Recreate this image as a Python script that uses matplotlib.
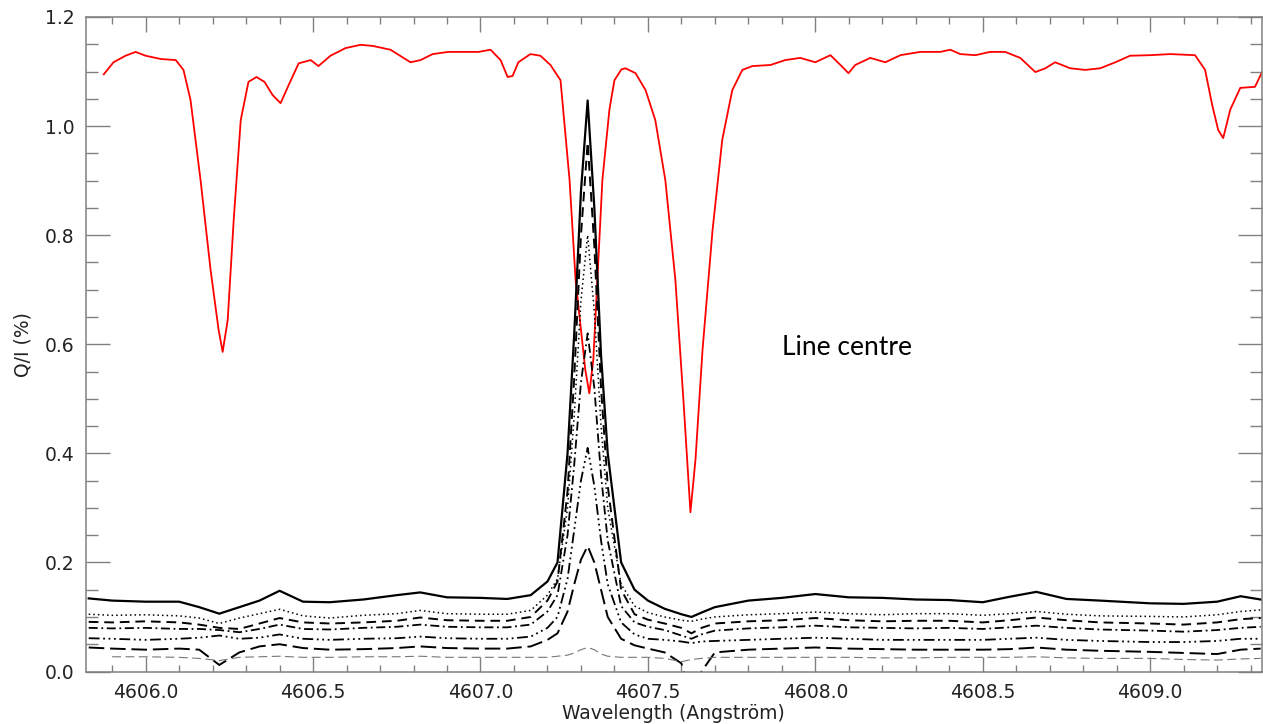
import matplotlib
matplotlib.use("Agg")
import matplotlib.pyplot as plt
from matplotlib.ticker import MultipleLocator

# ---------------- data ----------------
red_wl = [4605.875, 4605.904, 4605.940, 4605.970, 4606.000, 4606.045, 4606.090, 4606.113,
          4606.134, 4606.164, 4606.194, 4606.218, 4606.230, 4606.245, 4606.263, 4606.284,
          4606.307, 4606.331, 4606.355, 4606.379, 4606.403, 4606.427, 4606.457, 4606.493,
          4606.516, 4606.552, 4606.597, 4606.642, 4606.678, 4606.731, 4606.791, 4606.821,
          4606.857, 4606.904, 4606.940, 4606.994, 4607.030, 4607.060, 4607.081, 4607.096,
          4607.113, 4607.149, 4607.179, 4607.209, 4607.239, 4607.266, 4607.284, 4607.313,
          4607.325, 4607.337, 4607.349, 4607.364, 4607.385, 4607.400, 4607.421, 4607.433,
          4607.463, 4607.493, 4607.522, 4607.552, 4607.582, 4607.606, 4607.627, 4607.642,
          4607.663, 4607.693, 4607.722, 4607.752, 4607.782, 4607.812, 4607.866, 4607.910,
          4607.955, 4608.000, 4608.045, 4608.075, 4608.099, 4608.119, 4608.164, 4608.209,
          4608.254, 4608.313, 4608.373, 4608.403, 4608.433, 4608.478, 4608.522, 4608.567,
          4608.612, 4608.657, 4608.687, 4608.716, 4608.761, 4608.806, 4608.851, 4608.896,
          4608.940, 4609.000, 4609.060, 4609.134, 4609.164, 4609.185, 4609.203, 4609.218,
          4609.239, 4609.269, 4609.313, 4609.334]
red_qi = [1.095, 1.117, 1.129, 1.136, 1.129, 1.123, 1.121, 1.103,
          1.048, 0.901, 0.736, 0.626, 0.586, 0.644, 0.828, 1.011,
          1.081, 1.090, 1.081, 1.057, 1.042, 1.075, 1.115, 1.121,
          1.110, 1.129, 1.143, 1.149, 1.147, 1.140, 1.117, 1.121,
          1.132, 1.136, 1.136, 1.136, 1.140, 1.121, 1.090, 1.092,
          1.117, 1.132, 1.129, 1.112, 1.084, 0.901, 0.718, 0.553,
          0.510, 0.572, 0.718, 0.901, 1.030, 1.084, 1.104, 1.106,
          1.097, 1.066, 1.011, 0.901, 0.718, 0.498, 0.292, 0.388,
          0.589, 0.809, 0.975, 1.066, 1.103, 1.110, 1.112, 1.121,
          1.125, 1.117, 1.130, 1.112, 1.097, 1.112, 1.125, 1.117,
          1.130, 1.136, 1.136, 1.140, 1.132, 1.130, 1.136, 1.136,
          1.125, 1.099, 1.106, 1.117, 1.106, 1.103, 1.106, 1.117,
          1.129, 1.130, 1.132, 1.130, 1.103, 1.039, 0.993, 0.978,
          1.030, 1.070, 1.072, 1.099]

wl = [4605.83, 4605.90, 4606.00, 4606.10, 4606.16, 4606.22, 4606.28, 4606.34, 4606.40, 4606.47,
      4606.55, 4606.65, 4606.75, 4606.82, 4606.90, 4607.00, 4607.08, 4607.15, 4607.20, 4607.23,
      4607.26, 4607.28, 4607.30, 4607.32, 4607.34, 4607.36, 4607.38, 4607.42, 4607.46, 4607.50,
      4607.55, 4607.60, 4607.63, 4607.66, 4607.70, 4607.80, 4607.90, 4608.00, 4608.10, 4608.20,
      4608.30, 4608.40, 4608.50, 4608.58, 4608.66, 4608.75, 4608.85, 4609.00, 4609.10, 4609.20,
      4609.27, 4609.33]

q_solid = [0.134, 0.130, 0.128, 0.128, 0.118, 0.106, 0.118, 0.130, 0.148, 0.128,
           0.127, 0.132, 0.140, 0.145, 0.136, 0.135, 0.133, 0.140, 0.165, 0.200,
           0.400, 0.620, 0.880, 1.047, 0.850, 0.580, 0.400, 0.200, 0.150, 0.130,
           0.115, 0.105, 0.100, 0.108, 0.118, 0.130, 0.135, 0.142, 0.136, 0.135,
           0.132, 0.131, 0.127, 0.137, 0.146, 0.133, 0.130, 0.125, 0.124, 0.128,
           0.138, 0.132]
q_dot = [0.105, 0.103, 0.104, 0.102, 0.098, 0.088, 0.098, 0.106, 0.114, 0.102,
         0.098, 0.103, 0.106, 0.112, 0.106, 0.105, 0.105, 0.112, 0.140, 0.170,
         0.300, 0.470, 0.680, 0.800, 0.660, 0.450, 0.300, 0.160, 0.120, 0.108,
         0.100, 0.094, 0.092, 0.096, 0.100, 0.104, 0.106, 0.109, 0.106, 0.104,
         0.106, 0.106, 0.103, 0.106, 0.110, 0.105, 0.102, 0.101, 0.100, 0.104,
         0.110, 0.113]
q_dash = [0.091, 0.090, 0.092, 0.090, 0.086, 0.080, 0.078, 0.088, 0.098, 0.090,
          0.088, 0.090, 0.093, 0.099, 0.094, 0.093, 0.093, 0.100, 0.130, 0.165,
          0.330, 0.540, 0.800, 0.970, 0.780, 0.520, 0.340, 0.150, 0.105, 0.095,
          0.088, 0.080, 0.070, 0.080, 0.088, 0.092, 0.094, 0.098, 0.094, 0.092,
          0.093, 0.093, 0.090, 0.094, 0.099, 0.094, 0.090, 0.088, 0.086, 0.090,
          0.096, 0.098]
q_dashdot = [0.080, 0.079, 0.080, 0.078, 0.078, 0.076, 0.072, 0.078, 0.086, 0.078,
             0.077, 0.080, 0.082, 0.086, 0.082, 0.081, 0.081, 0.086, 0.110, 0.140,
             0.250, 0.380, 0.530, 0.620, 0.520, 0.360, 0.240, 0.120, 0.090, 0.082,
             0.076, 0.066, 0.060, 0.068, 0.075, 0.079, 0.081, 0.084, 0.081, 0.080,
             0.079, 0.080, 0.078, 0.081, 0.084, 0.080, 0.077, 0.075, 0.073, 0.076,
             0.080, 0.082]
q_dash3dot = [0.061, 0.060, 0.058, 0.060, 0.062, 0.066, 0.060, 0.062, 0.068, 0.060,
              0.058, 0.060, 0.061, 0.064, 0.061, 0.060, 0.060, 0.064, 0.080, 0.100,
              0.170, 0.260, 0.350, 0.410, 0.340, 0.240, 0.160, 0.090, 0.068, 0.060,
              0.058, 0.055, 0.052, 0.055, 0.056, 0.058, 0.060, 0.062, 0.060, 0.058,
              0.058, 0.058, 0.058, 0.060, 0.062, 0.058, 0.056, 0.054, 0.054, 0.056,
              0.060, 0.060]
q_longdash = [0.044, 0.042, 0.040, 0.042, 0.040, 0.012, 0.035, 0.046, 0.050, 0.043,
              0.040, 0.041, 0.043, 0.046, 0.043, 0.042, 0.042, 0.046, 0.058, 0.070,
              0.110, 0.160, 0.205, 0.230, 0.200, 0.150, 0.100, 0.060, 0.048, 0.042,
              0.035, 0.015, -0.050, 0.000, 0.035, 0.040, 0.042, 0.044, 0.042, 0.041,
              0.040, 0.040, 0.040, 0.041, 0.044, 0.040, 0.038, 0.036, 0.034, 0.032,
              0.040, 0.042]
q_grey = [None, 0.027, 0.027, 0.026, 0.024, 0.020, 0.026, 0.027, 0.028, 0.026,
          0.026, 0.027, 0.027, 0.028, 0.026, 0.026, 0.026, 0.026, 0.026, 0.028,
          0.030, 0.034, 0.040, 0.044, 0.040, 0.032, 0.028, 0.026, 0.026, 0.026,
          0.024, 0.018, 0.022, 0.024, 0.026, 0.026, 0.026, 0.026, 0.026, 0.025,
          0.025, 0.026, 0.026, 0.026, 0.027, 0.025, 0.024, 0.024, 0.022, 0.021,
          0.023, 0.024]

# ---------------- figure ----------------
fig = plt.figure(figsize=(12.63, 7.24), dpi=100)
ax = fig.add_axes([85.7 / 1263, 1 - 671.5 / 724, (1261.7 - 85.7) / 1263, (671.5 - 17) / 724])

frame_col = "#808080"
font = ["DejaVu Sans"]

ax.plot(red_wl, red_qi, color="red", lw=1.3)
ax.plot(wl, q_solid, color="black", lw=1.6, ls="-")
ax.plot(wl, q_dot, color="black", lw=1.1, ls=(0, (1, 2)))
ax.plot(wl, q_dash, color="black", lw=1.4, ls=(0, (5, 3)))
ax.plot(wl, q_dashdot, color="black", lw=1.3, ls=(0, (5, 2, 1, 2)))
ax.plot(wl, q_dash3dot, color="black", lw=1.3, ls=(0, (6, 2, 1, 2, 1, 2, 1, 2)))
ax.plot(wl, q_longdash, color="black", lw=1.4, ls=(0, (8, 3)))
ax.plot(wl, q_grey, color="#777777", lw=0.8, ls=(0, (8, 4)))

ax.set_xlim(4605.821, 4609.333)
ax.set_ylim(0.0, 1.2)

ax.xaxis.set_major_locator(MultipleLocator(0.5))
ax.xaxis.set_minor_locator(MultipleLocator(0.1))
ax.yaxis.set_major_locator(MultipleLocator(0.2))
ax.yaxis.set_minor_locator(MultipleLocator(0.05))
ax.xaxis.set_major_formatter(plt.FuncFormatter(lambda v, p: f"{v:.1f}"))
ax.yaxis.set_major_formatter(plt.FuncFormatter(lambda v, p: f"{v:.1f}"))

ax.tick_params(axis="x", which="major", direction="in", length=10.8, width=1.0,
               color=frame_col, top=True, bottom=True, labelsize=13.5, pad=8)
ax.tick_params(axis="x", which="minor", direction="in", length=5.0, width=1.0,
               color=frame_col, top=True, bottom=True)
ax.tick_params(axis="y", which="major", direction="in", length=17.3, width=1.0,
               color=frame_col, left=True, right=True, labelsize=13.5, pad=8)
ax.tick_params(axis="y", which="minor", direction="in", length=8.6, width=1.0,
               color=frame_col, left=True, right=True)
for lab in ax.get_xticklabels() + ax.get_yticklabels():
    lab.set_family(font)
    lab.set_color("#222222")

for sp in ax.spines.values():
    sp.set_color(frame_col)
    sp.set_linewidth(1.1)

ax.set_xlabel("Wavelength (Angström)", fontsize=13.5, family=font, color="#222222", labelpad=2)
ax.set_ylabel("Q/I (%)", fontsize=13.5, family=font, color="#222222", labelpad=9)

ax.text(4607.90, 0.580, "Line centre", fontsize=19, family=["Lato", "DejaVu Sans"],
        color="black", ha="left", va="baseline")

fig.savefig("out.png", dpi=100)
